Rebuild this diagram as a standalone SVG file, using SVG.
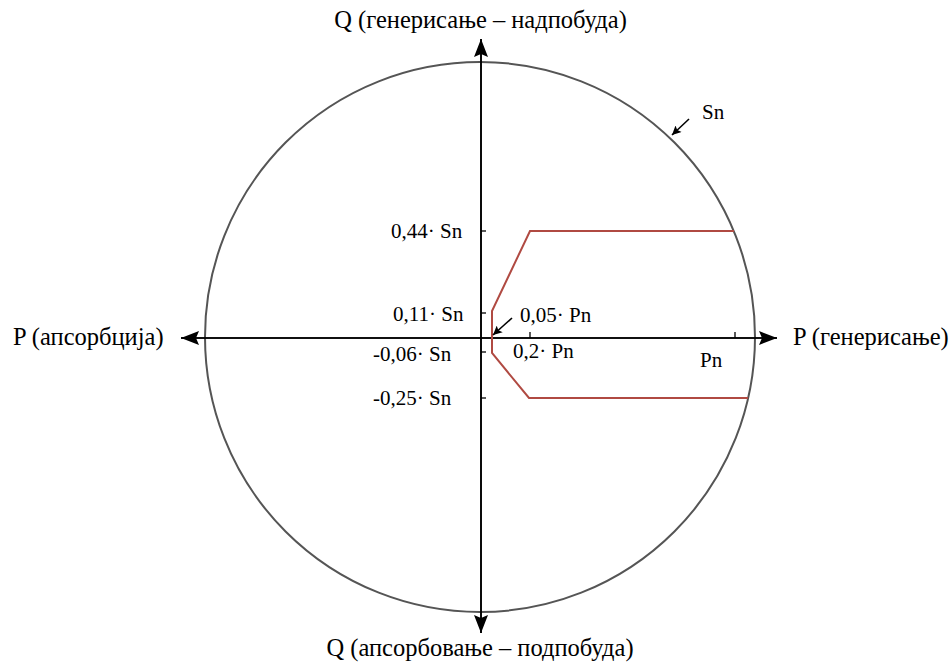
<svg xmlns="http://www.w3.org/2000/svg" width="952" height="664" viewBox="0 0 952 664">
<defs>
<marker id="ah" viewBox="0 0 10 10" refX="10" refY="5" markerWidth="10" markerHeight="9" markerUnits="userSpaceOnUse" orient="auto"><path d="M0,0 L10,5 L0,10 L2,5 z" fill="#000"/></marker>
<marker id="big" viewBox="0 0 18 14" refX="18" refY="7" markerWidth="18" markerHeight="14" markerUnits="userSpaceOnUse" orient="auto"><path d="M0,0 L18,7 L0,14 L3,7 z" fill="#000"/></marker>
</defs>
<style>
text{fill:#000}
.ax{font-size:24.5px}
.lb{font-size:21px}
.axis{stroke:#000;stroke-width:1.6;fill:none}
.tick{stroke:#000;stroke-width:1.3}
</style>
<rect width="952" height="664" fill="#fff"/>
<g id="circle"><circle cx="480" cy="337" r="275" fill="none" stroke="#555" stroke-width="2"/></g>
<g id="connectors">
<line class="axis" x1="181" y1="338" x2="777" y2="338" marker-end="url(#big)"/>
<line class="axis" x1="777" y1="338" x2="181" y2="338" marker-end="url(#big)"/>
<line class="axis" x1="481" y1="633" x2="481" y2="39" marker-end="url(#big)"/>
<line class="axis" x1="481" y1="39" x2="481" y2="633" marker-end="url(#big)"/>
<line class="tick" x1="481" y1="231" x2="486" y2="231"/>
<line class="tick" x1="481" y1="313" x2="486" y2="313"/>
<line class="tick" x1="481" y1="352" x2="486" y2="352"/>
<line class="tick" x1="481" y1="398" x2="486" y2="398"/>
<line class="tick" x1="530" y1="338" x2="530" y2="332"/>
<line class="tick" x1="735" y1="338" x2="735" y2="332"/>
<polyline points="734,231 530,231 492,311 492,353 529,398 748,398" fill="none" stroke="#b04a42" stroke-width="2"/>
<line x1="512" y1="318" x2="493" y2="335" stroke="#000" stroke-width="1.6" marker-end="url(#ah)"/>
<line x1="689" y1="119" x2="672" y2="135" stroke="#000" stroke-width="1.6" marker-end="url(#ah)"/>
</g>
<g id="labels" font-family="Liberation Serif, DejaVu Serif, serif">
<text class="ax" x="480.5" y="28" text-anchor="middle">Q (генерисање – надпобуда)</text>
<text class="ax" x="480" y="656" text-anchor="middle">Q (апсорбовање – подпобуда)</text>
<text class="ax" x="13" y="345">P (апсорбција)</text>
<text class="ax" x="793" y="345">P (генерисање)</text>
<text class="lb" x="702" y="119">Sn</text>
<text class="lb" x="700" y="367">Pn</text>
<text class="lb" x="391" y="238">0,44· Sn</text>
<text class="lb" x="393" y="321">0,11· Sn</text>
<text class="lb" x="373" y="361">-0,06· Sn</text>
<text class="lb" x="373" y="405">-0,25· Sn</text>
<text class="lb" x="520" y="322">0,05· Pn</text>
<text class="lb" x="513" y="358">0,2· Pn</text>
</g>
</svg>
